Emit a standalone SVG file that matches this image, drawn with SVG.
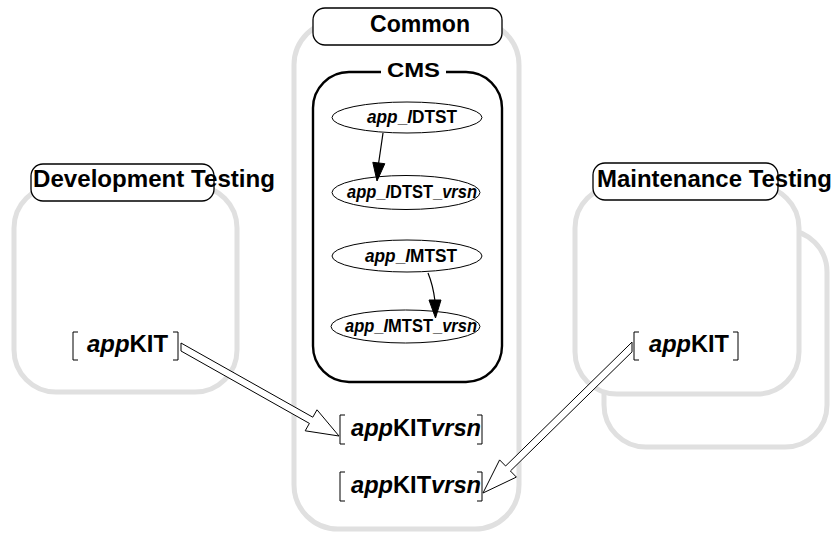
<svg xmlns="http://www.w3.org/2000/svg" width="835" height="535" viewBox="0 0 835 535">
<style>
.panel{fill:#fff;stroke:#e0e0e0;stroke-width:5}
.lbl{fill:#fff;stroke:#000;stroke-width:1.3}
.t{font-family:"Liberation Sans",Arial,Helvetica,sans-serif;font-weight:bold;fill:#000}
.i{font-style:italic}
.node{fill:#fff;stroke:#000;stroke-width:1}
.edge{fill:none;stroke:#000;stroke-width:1.2}
.head{fill:#000;stroke:#000;stroke-width:1}
.brk{fill:none;stroke:#000;stroke-width:1}
.big{fill:#fff;stroke:#000;stroke-width:1}
</style>
<rect width="835" height="535" fill="#fff"/>

<g id="common">
<rect class="panel" x="294" y="21" width="225" height="508" rx="44"/>
<rect class="lbl" x="313" y="8" width="189" height="37" rx="12"/>
<text class="t" x="370" y="32" font-size="23" textLength="100" lengthAdjust="spacingAndGlyphs">Common</text>
</g>

<g id="development">
<rect class="panel" x="14" y="186" width="223" height="206" rx="42"/>
<rect class="lbl" x="31" y="164" width="183" height="37" rx="12"/>
<text class="t" x="33" y="187" font-size="23" textLength="242" lengthAdjust="spacingAndGlyphs">Development Testing</text>
</g>

<g id="maintenance">
<rect class="panel" x="604" y="230" width="223" height="217" rx="42"/>
<rect class="panel" x="575" y="186" width="224" height="208" rx="42"/>
<rect class="lbl" x="593" y="163" width="185" height="37" rx="12"/>
<text class="t" x="597" y="187" font-size="23" textLength="235" lengthAdjust="spacingAndGlyphs">Maintenance Testing</text>
</g>

<g id="cms">
<rect x="313" y="72" width="189" height="310" rx="36" fill="#fff" stroke="#000" stroke-width="2.4"/>
<rect x="381" y="66" width="65" height="12" fill="#fff"/>
<text class="t" x="387" y="77" font-size="21" textLength="53" lengthAdjust="spacingAndGlyphs">CMS</text>
</g>

<g id="app_DTST">
<ellipse class="node" cx="407" cy="117.5" rx="75" ry="15.5"/>
<text class="t" x="367" y="123" font-size="18" textLength="90" lengthAdjust="spacingAndGlyphs"><tspan class="i">app</tspan>_<tspan class="i">l</tspan>DTST</text>
</g>

<g id="app_DTST_vrsn">
<ellipse class="node" cx="406" cy="192.5" rx="74" ry="17"/>
<text class="t" x="347" y="198" font-size="18" textLength="130" lengthAdjust="spacingAndGlyphs"><tspan class="i">app</tspan>_<tspan class="i">l</tspan>DTST_<tspan class="i">vrsn</tspan></text>
</g>

<g id="app_MTST">
<ellipse class="node" cx="407" cy="256" rx="75" ry="16"/>
<text class="t" x="365" y="262" font-size="18" textLength="92" lengthAdjust="spacingAndGlyphs"><tspan class="i">app</tspan>_<tspan class="i">l</tspan>MTST</text>
</g>

<g id="app_MTST_vrsn">
<ellipse class="node" cx="405.5" cy="326.5" rx="74.5" ry="16.5"/>
<text class="t" x="345" y="332" font-size="18" textLength="132" lengthAdjust="spacingAndGlyphs"><tspan class="i">app</tspan>_<tspan class="i">l</tspan>MTST_<tspan class="i">vrsn</tspan></text>
</g>

<g id="dev_appKIT">
<path class="brk" d="M78,332 H73 V360 H78 M173,332 H178 V360 H173"/>
<text class="t" x="87" y="352" font-size="23" textLength="81" lengthAdjust="spacingAndGlyphs"><tspan class="i">app</tspan>KIT</text>
</g>

<g id="maint_appKIT">
<path class="brk" d="M639,332 H634 V360 H639 M733,332 H738 V360 H733"/>
<text class="t" x="649" y="352" font-size="23" textLength="80" lengthAdjust="spacingAndGlyphs"><tspan class="i">app</tspan>KIT</text>
</g>

<g id="common_appKITvrsn_1">
<path class="brk" d="M345,415 H340 V444 H345 M477,415 H482 V444 H477"/>
<text class="t" x="351" y="436" font-size="23" textLength="130" lengthAdjust="spacingAndGlyphs"><tspan class="i">app</tspan>KIT<tspan class="i">vrsn</tspan></text>
</g>

<g id="common_appKITvrsn_2">
<path class="brk" d="M345,472 H340 V501 H345 M477,472 H482 V501 H477"/>
<text class="t" x="351" y="493" font-size="23" textLength="130" lengthAdjust="spacingAndGlyphs"><tspan class="i">app</tspan>KIT<tspan class="i">vrsn</tspan></text>
</g>

<g id="connectors">
<path class="edge" d="M383,133 L378.5,164"/>
<polygon class="head" points="372.8,162.3 384.8,163.7 377,181"/>
<path class="edge" d="M428,273 Q433,285 435,301"/>
<polygon class="head" points="429,300 441,300 435.5,318"/>
<polygon class="big" points="181,343 312.8,417.2 317,409.8 339,436 305.2,430.8 309.4,423.4 181,351"/>
<polygon class="big" points="632,342.1 505.6,466 499.6,459.9 483,493 516.4,477.1 510.4,471 632,351.9"/>
</g>
</svg>
